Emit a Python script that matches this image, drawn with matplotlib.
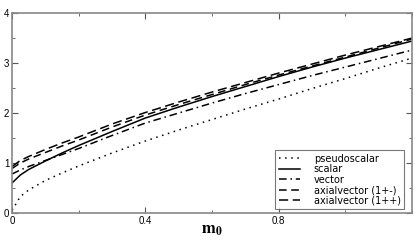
import numpy as np
import matplotlib
matplotlib.use("Agg")
import matplotlib.pyplot as plt
from matplotlib.ticker import MultipleLocator

plt.rcParams['font.family'] = ['Liberation Sans', 'DejaVu Sans']
plt.rcParams['mathtext.fontset'] = 'stix'

# quark mass m0 and meson masses
m0 = [0.0, 0.025, 0.05, 0.1, 0.15, 0.2, 0.3, 0.4, 0.5, 0.6, 0.7, 0.8, 0.9, 1.0, 1.1, 1.2]
pseudoscalar = [0.05, 0.33, 0.46, 0.65, 0.8, 0.94, 1.2, 1.44, 1.66, 1.87, 2.08, 2.28, 2.49, 2.69, 2.9, 3.1]
scalar = [0.6, 0.76, 0.87, 1.04, 1.2, 1.35, 1.63, 1.9, 2.12, 2.33, 2.53, 2.73, 2.92, 3.1, 3.27, 3.44]
vector = [0.78, 0.86, 0.93, 1.05, 1.17, 1.29, 1.55, 1.8, 2.0, 2.2, 2.39, 2.57, 2.75, 2.92, 3.09, 3.26]
axial_pm = [0.89, 1.0, 1.08, 1.21, 1.34, 1.46, 1.72, 1.96, 2.17, 2.37, 2.57, 2.76, 2.94, 3.12, 3.3, 3.48]
axial_pp = [0.93, 1.05, 1.13, 1.27, 1.4, 1.52, 1.78, 2.01, 2.22, 2.42, 2.61, 2.8, 2.98, 3.16, 3.33, 3.5]

series = [
    (pseudoscalar, 'pseudoscalar', (0, (1, 3))),
    (scalar, 'scalar', '-'),
    (vector, 'vector', (0, (5, 2.5, 1, 2.5))),
    (axial_pm, 'axialvector (1+-)', (0, (5, 3))),
    (axial_pp, 'axialvector (1++)', (0, (6, 3))),
]

fig = plt.figure(figsize=(4.15, 2.42), dpi=100)
ax = fig.add_axes([0.029, 0.12, 0.964, 0.826])

for vals, name, ls in series:
    ax.plot(m0, vals, color='black', linestyle=ls, linewidth=1.1, label=name)

ax.set_xlim(0, 1.2)
ax.set_ylim(0, 4)
ax.xaxis.set_minor_locator(MultipleLocator(0.2))
ax.yaxis.set_major_locator(MultipleLocator(1))
ax.yaxis.set_minor_locator(MultipleLocator(0.5))
ax.set_xticks([0, 0.4, 0.8])
ax.set_xticklabels(['0', '0.4', '0.8'])
ax.tick_params(which='both', direction='in', top=True, right=True,
               labelsize=7, color='#555555', pad=2)
ax.tick_params(which='major', length=4)
ax.tick_params(which='minor', length=2.5)
for s in ax.spines.values():
    s.set_color('#888888')
    s.set_linewidth(1.2)

ax.set_xlabel(r'$\mathbf{m_0}$', fontsize=12, labelpad=-2)

leg = ax.legend(loc='lower right', bbox_to_anchor=(0.985, 0.01),
                prop={'family': 'DejaVu Sans', 'size': 7},
                frameon=True, fancybox=False, edgecolor='#555555',
                handlelength=2.2, handletextpad=1.4, labelspacing=0.05,
                borderpad=0.35, borderaxespad=0.2)
leg.get_frame().set_linewidth(0.8)

fig.savefig('out.png', dpi=100)
